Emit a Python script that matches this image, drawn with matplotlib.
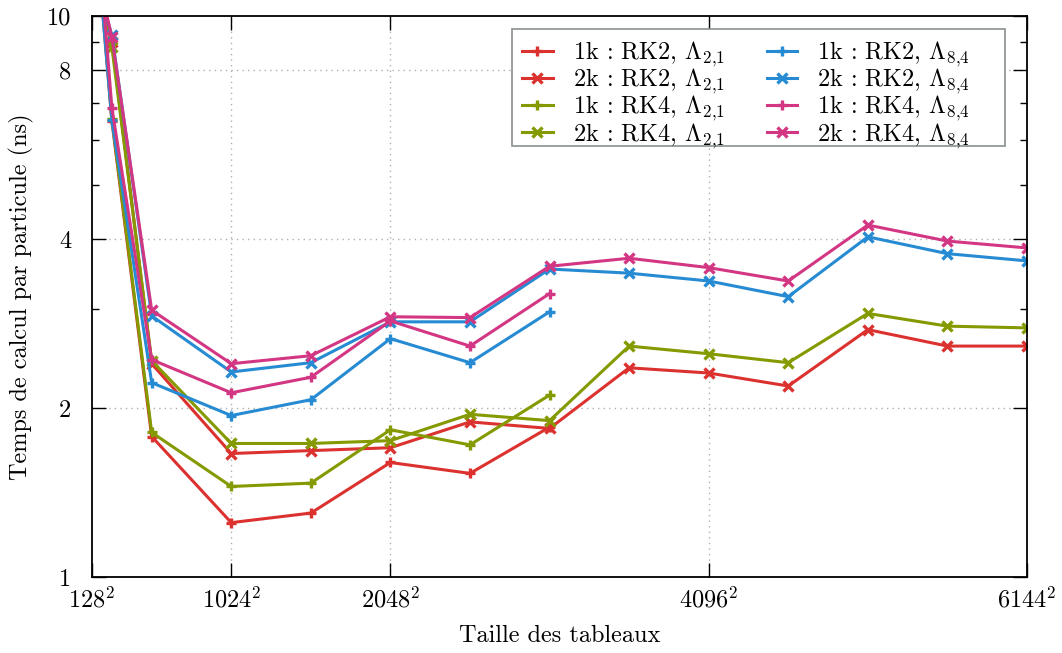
import matplotlib
matplotlib.use("Agg")
import matplotlib.pyplot as plt
from matplotlib.patches import Rectangle
from matplotlib.ticker import FixedLocator, NullFormatter

plt.rcParams["font.family"] = "serif"
plt.rcParams["font.serif"] = ["cmr10", "DejaVu Serif"]
plt.rcParams["mathtext.fontset"] = "cm"
plt.rcParams["axes.unicode_minus"] = False
plt.rcParams["axes.formatter.use_mathtext"] = True

# Array sizes (N for an N x N grid)
sizes_1k = [128, 256, 512, 1024, 1536, 2048, 2560, 3072]
sizes_2k = [128, 256, 512, 1024, 1536, 2048, 2560, 3072, 3584, 4096, 4608, 5120, 5632, 6144]

# Compute time per particle (ns)
rk2_l21_1k = [17.0, 6.50, 1.78, 1.25, 1.30, 1.60, 1.53, 1.85]
rk2_l21_2k = [12.0, 9.00, 2.40, 1.66, 1.68, 1.70, 1.89, 1.84, 2.36, 2.31, 2.19, 2.76, 2.58, 2.58]
rk4_l21_1k = [18.0, 6.55, 1.81, 1.45, 1.47, 1.83, 1.72, 2.11]
rk4_l21_2k = [13.0, 8.80, 2.43, 1.73, 1.73, 1.75, 1.95, 1.90, 2.58, 2.50, 2.41, 2.95, 2.80, 2.78]
rk2_l84_1k = [17.0, 6.52, 2.22, 1.94, 2.07, 2.66, 2.41, 2.97]
rk2_l84_2k = [12.0, 9.25, 2.92, 2.32, 2.41, 2.85, 2.85, 3.54, 3.48, 3.37, 3.16, 4.04, 3.77, 3.66]
rk4_l84_1k = [19.0, 6.85, 2.44, 2.13, 2.27, 2.86, 2.58, 3.20]
rk4_l84_2k = [13.0, 9.17, 2.99, 2.40, 2.48, 2.91, 2.90, 3.58, 3.70, 3.56, 3.37, 4.24, 3.97, 3.86]

RED, GREEN, BLUE, MAGENTA = "#dc322f", "#859900", "#268bd2", "#d33682"

series = [
    (sizes_1k, rk2_l21_1k, RED, "+", r"1k : RK2, $\Lambda_{2{,}1}$"),
    (sizes_2k, rk2_l21_2k, RED, "x", r"2k : RK2, $\Lambda_{2{,}1}$"),
    (sizes_1k, rk4_l21_1k, GREEN, "+", r"1k : RK4, $\Lambda_{2{,}1}$"),
    (sizes_2k, rk4_l21_2k, GREEN, "x", r"2k : RK4, $\Lambda_{2{,}1}$"),
    (sizes_1k, rk2_l84_1k, BLUE, "+", r"1k : RK2, $\Lambda_{8{,}4}$"),
    (sizes_2k, rk2_l84_2k, BLUE, "x", r"2k : RK2, $\Lambda_{8{,}4}$"),
    (sizes_1k, rk4_l84_1k, MAGENTA, "+", r"1k : RK4, $\Lambda_{8{,}4}$"),
    (sizes_2k, rk4_l84_2k, MAGENTA, "x", r"2k : RK4, $\Lambda_{8{,}4}$"),
]

FS = 17.5
W, H = 1062, 653

fig = plt.figure(figsize=(W / 100, H / 100), dpi=100)
ax = fig.add_axes([92 / W, 1 - 577 / H, (1027 - 92) / W, (577 - 16) / H])

for xs, ys, col, mk, lab in series:
    ax.plot(xs, ys, color=col, marker=mk, markersize=7.5, markeredgewidth=2.4,
            linewidth=2.2, label=lab, clip_on=True)

ax.set_yscale("log")
ax.set_xlim(128, 6144)
ax.set_ylim(1, 10)

xticks = [128, 1024, 2048, 4096, 6144]
ax.xaxis.set_major_locator(FixedLocator(xticks))
ax.set_xticklabels([rf"${v}^2$" for v in xticks])
ax.xaxis.set_minor_locator(FixedLocator([]))

yticks = [1, 2, 4, 8, 10]
ax.yaxis.set_major_locator(FixedLocator(yticks))
ax.set_yticklabels([str(v) for v in yticks])
ax.yaxis.set_minor_locator(FixedLocator([3, 5, 6, 7, 9]))
ax.yaxis.set_minor_formatter(NullFormatter())

ax.tick_params(which="both", direction="in", top=True, right=True,
               labelsize=FS, width=1.0, colors="black")
ax.tick_params(which="major", length=10)
ax.tick_params(axis="x", which="major", pad=7)
ax.tick_params(axis="y", which="major", pad=15)
ax.tick_params(which="minor", length=5)

for xv in [1024, 2048, 4096]:
    ax.axvline(xv, color="#b0b0b0", linestyle=(0, (1, 3)), linewidth=1.0, zorder=0)
for yv in [2, 4, 8]:
    ax.axhline(yv, color="#b0b0b0", linestyle=(0, (1, 3)), linewidth=1.0, zorder=0)

for sp in ax.spines.values():
    sp.set_linewidth(1.3)

ax.set_xlabel("Taille des tableaux", fontsize=FS, labelpad=9)
ax.set_ylabel("Temps de calcul par particule (ns)", fontsize=FS, labelpad=9)

# legend box (wider on the right, as the key is laid out)
box_l, box_t, box_r, box_b = 512, 29, 1005, 146
fig.patches.append(Rectangle((box_l / W, 1 - box_b / H), (box_r - box_l) / W,
                             (box_b - box_t) / H, transform=fig.transFigure,
                             facecolor="white", edgecolor="#8a9090",
                             linewidth=1.2, zorder=5))

leg = fig.legend(*ax.get_legend_handles_labels(), loc="upper left",
                 bbox_to_anchor=(box_l / W, 1 - box_t / H), ncol=2,
                 fontsize=FS, frameon=False, numpoints=1,
                 handlelength=1.25, labelspacing=-0.1, columnspacing=1.75,
                 handletextpad=0.82, borderpad=0.42, borderaxespad=0.0)
leg.set_zorder(6)

fig.savefig("out.png", dpi=100)
